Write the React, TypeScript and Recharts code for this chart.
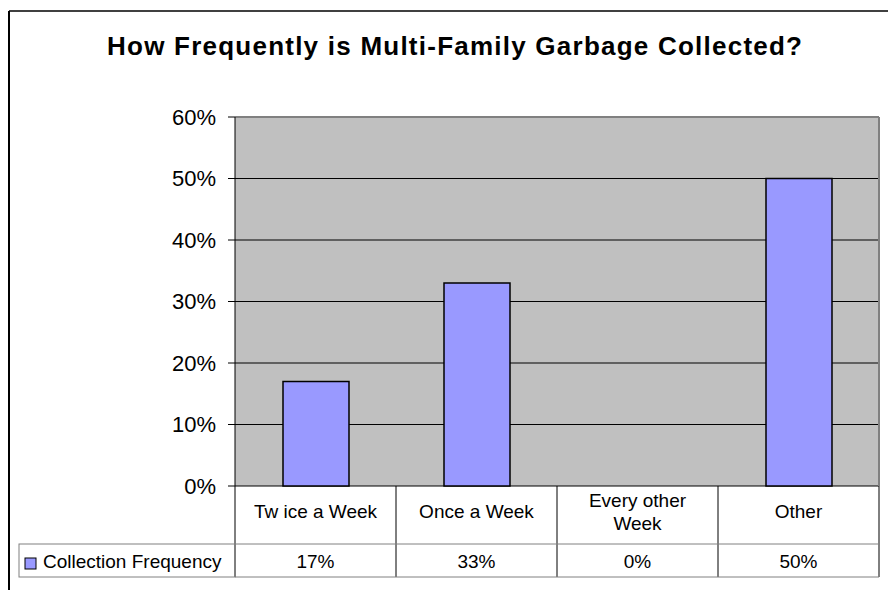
import { BarChart, Bar, XAxis, YAxis, CartesianGrid, ReferenceLine } from "recharts";

const TITLE = "How Frequently is Multi-Family Garbage Collected?";
const SERIES_NAME = "Collection Frequency";
const CATEGORIES = ["Tw ice a Week", "Once a Week", "Every other Week", "Other"];
const COLLECTION_FREQUENCY = [0.17, 0.33, 0, 0.5];
const Y_TICKS = [0, 0.1, 0.2, 0.3, 0.4, 0.5, 0.6];

// layout (page pixels)
const W = 888;
const H = 590;
const PLOT_LEFT = 235;
const PLOT_RIGHT = 879;
const PLOT_TOP = 117;
const PLOT_BOTTOM = 486;
const ROW1_BOTTOM = 544;
const ROW2_BOTTOM = 577;
const CELL = (PLOT_RIGHT - PLOT_LEFT) / CATEGORIES.length;
const FONT = '"Liberation Sans", Arial, sans-serif';
const BAR_COLOR = "#9999ff";
const TABLE_FONT = 19;

const data = CATEGORIES.map((name, i) => ({ name, value: COLLECTION_FREQUENCY[i] }));

const pct = (v: number) => `${Math.round(v * 100)}%`;

// wrap long category names onto two lines like the data table does
const splitLabel = (s: string) => {
  if (s.length <= 14) return [s];
  const k = s.lastIndexOf(" ");
  return [s.slice(0, k), s.slice(k + 1)];
};

function TableCell(props: any) {
  const { x, payload, index } = props;
  const left = x - CELL / 2;
  const right = x + CELL / 2;
  const lines = splitLabel(payload.value);
  const row = data.find((d) => d.name === payload.value);
  const mid1 = (PLOT_BOTTOM + ROW1_BOTTOM) / 2;
  const mid2 = (ROW1_BOTTOM + ROW2_BOTTOM) / 2;
  const textStyle = { fontFamily: FONT, fontSize: TABLE_FONT, fill: "#000" };

  return (
    <g>
      {index === 0 && (
        <g>
          <line x1={left} x2={left} y1={PLOT_BOTTOM} y2={ROW2_BOTTOM} stroke="#000" />
          <rect x={19} y={ROW1_BOTTOM} width={left - 19} height={ROW2_BOTTOM - ROW1_BOTTOM} fill="none" stroke="#808080" />
          <rect x={25} y={558} width={11} height={11} fill={BAR_COLOR} stroke="#000" />
          <text x={43} y={mid2 + 7} {...textStyle}>
            {SERIES_NAME}
          </text>
        </g>
      )}
      {index === CATEGORIES.length - 1 && (
        <line x1={right} x2={right} y1={PLOT_TOP} y2={PLOT_BOTTOM} stroke="#808080" strokeWidth={2} />
      )}
      <line x1={right} x2={right} y1={PLOT_BOTTOM} y2={ROW2_BOTTOM} stroke="#000" />
      <line x1={left} x2={right} y1={ROW1_BOTTOM} y2={ROW1_BOTTOM} stroke="#808080" />
      <line x1={left} x2={right} y1={ROW2_BOTTOM} y2={ROW2_BOTTOM} stroke="#808080" />
      <text textAnchor="middle" {...textStyle}>
        {lines.map((l, j) => (
          <tspan key={j} x={x} y={mid1 + 3 + (j - (lines.length - 1) / 2) * 23}>
            {l}
          </tspan>
        ))}
      </text>
      <text x={x} y={mid2 + 7} textAnchor="middle" {...textStyle}>
        {row ? pct(row.value) : ""}
      </text>
    </g>
  );
}

export default function App() {
  return (
    <div style={{ position: "absolute", left: 0, top: 0, width: W, height: H, background: "#fff" }}>
      <BarChart
        width={W}
        height={H}
        data={data}
        barCategoryGap={0}
        margin={{ top: PLOT_TOP, right: W - PLOT_RIGHT, left: PLOT_LEFT - 70, bottom: H - PLOT_BOTTOM - 91 }}
      >
        <CartesianGrid vertical={false} fill="#c0c0c0" stroke="#000" strokeOpacity={1} />
        <XAxis
          dataKey="name"
          height={91}
          axisLine={false}
          tickLine={false}
          interval={0}
          tick={(p: any) => <TableCell {...p} />}
        />
        <YAxis
          width={70}
          domain={[0, 0.6]}
          ticks={Y_TICKS}
          tickFormatter={pct}
          axisLine={{ stroke: "#000" }}
          tickLine={{ stroke: "#000" }}
          tickSize={7}
          tickMargin={12}
          tick={{ fontFamily: FONT, fontSize: 22, fill: "#000" }}
        />
        <ReferenceLine y={0.6} stroke="#808080" strokeWidth={2} />
        <Bar dataKey="value" fill={BAR_COLOR} stroke="#000" strokeWidth={1.5} barSize={66} isAnimationActive={false} />
      </BarChart>
      <svg width={W} height={H} style={{ position: "absolute", left: 0, top: 0, pointerEvents: "none" }}>
        <line x1={9} x2={9} y1={11} y2={H} stroke="#000" strokeWidth={2} />
        <line x1={9} x2={W} y1={11} y2={11} stroke="#000" strokeWidth={1.5} />
        <text
          x={(107 + 802) / 2}
          y={55}
          textAnchor="middle"
          textLength={695}
          lengthAdjust="spacing"
          fontFamily={FONT}
          fontWeight="bold"
          fontSize={26}
        >
          {TITLE}
        </text>
      </svg>
    </div>
  );
}
